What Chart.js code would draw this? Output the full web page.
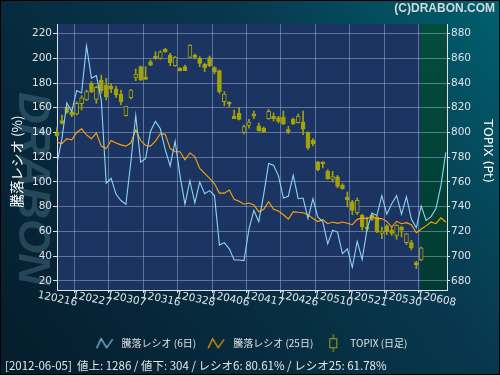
<!DOCTYPE html>
<html><head><meta charset="utf-8">
<script src="https://cdn.jsdelivr.net/npm/chart.js@4/dist/chart.umd.min.js"></script>
<style>html,body{margin:0;padding:0;background:#062436;overflow:hidden}canvas{display:block}</style>
</head><body>
<canvas id="c" width="500" height="375"></canvas>
<script>
const tickLabels = ['120216','120227','120307','120316','120328','120406','120417','120426','120510','120521','120530','120608'];
const dayIndex = Array.from({length: 80}, (_, i) => i);
const ratio6 = [115,135,164,157,174,172,210,184,186,166,
 99,103,90,85,82,116,154,116,119,141,
 149,143,126,113,133,105,82,101,83,100,
 90.5,93,89,49,51,46,37,37,36.5,62,
 77,68,90,115,113.5,105,87,88.5,105.5,86.5,
 87,70.5,86.5,71.5,68,50,61,59.5,42,46,
 31,52,37.5,62,75,73,89,74,82.5,89,
 74,88,70,63,80.6,69,72,78.5,97,124];
const ratio25 = [132,131,135,134,140,143,138,135,139.5,129,
 127,133.5,131.5,130,129,131.5,142,133.5,129.5,129,
 133,139,138.5,127,124.5,124.5,118,123.5,120.5,111,
 107,103,98.5,91,91,93.5,86,84.5,82,83,
 81.5,76,78,84,78,76.5,73.5,70,76,75.5,
 75.2,73.6,70.5,68,69.5,66.3,67.7,66.6,67.7,66.6,
 65.5,69.8,71,70.4,72.5,70.4,70.4,68.2,63.6,68.2,
 66.3,67.1,65.5,59,62,64.5,67.7,66.3,71,67.7];
const topixOpen = [799.3,809.6,820.3,816.8,815.0,823.3,826.3,839.7,826.8,842.4,
 838.4,837.6,835.2,831.1,813.6,828.1,844.6,853.2,844.6,857.2,
 861.8,859.9,867.2,862.6,854.0,851.9,853.2,860.7,862.6,859.9,
 855.1,860.5,852.4,850.0,824.9,824.6,813.3,815.5,800.1,805.8,
 815.0,805.3,803.6,811.2,813.1,812.0,812.5,802.3,810.6,807.9,
 808.5,800.4,793.7,776.2,776.2,768.9,762.2,764.1,757.3,747.9,
 743.9,735.2,733.1,723.6,733.1,731.7,718.5,724.5,721.0,716.9,
 723.6,711.0,711.0,694.8,697.0];
const topixHigh = [803.9,814.1,821.4,818.2,824.9,829.8,834.3,841.1,837.6,846.5,
 843.8,839.7,837.6,834.3,821.4,834.9,851.3,853.7,853.2,858.6,
 865.3,866.1,868.0,864.0,861.3,852.5,854.5,871.0,863.4,861.3,
 855.9,861.8,853.2,850.5,833.0,824.9,818.2,820.3,806.0,810.6,
 817.4,807.7,804.5,818.7,815.8,813.1,817.4,805.0,811.7,814.9,
 817.4,800.4,795.0,776.7,776.2,770.0,768.6,765.4,758.7,751.9,
 745.2,747.1,733.9,731.7,734.4,732.3,723.6,725.5,723.6,725.5,
 724.4,718.5,712.9,695.9,707.5];
const topixLow = [796.6,806.9,815.5,812.8,814.1,818.2,825.7,832.2,823.6,831.6,
 826.3,832.2,828.4,822.2,813.3,827.1,841.9,842.2,843.0,854.0,
 859.1,859.1,864.8,854.0,853.7,849.7,850.0,860.5,859.9,853.2,
 849.2,853.2,847.3,831.6,821.7,820.9,811.2,810.1,798.8,803.6,
 811.2,801.0,799.9,810.6,809.3,807.7,806.3,799.1,806.3,807.7,
 798.3,786.4,789.1,768.9,771.3,762.2,760.0,755.2,754.1,739.8,
 733.6,733.6,721.0,720.1,728.8,719.1,714.2,717.4,716.9,713.7,
 715.6,709.4,705.1,690.0,696.4];
const topixClose = [797.2,807.4,816.3,814.1,823.6,828.1,833.0,833.0,836.5,833.8,
 828.9,835.4,830.3,824.9,821.4,834.3,847.3,842.4,843.0,854.5,
 859.9,865.3,865.3,856.4,860.7,850.0,850.0,870.7,860.7,855.9,
 852.4,854.0,849.2,833.0,831.1,823.0,811.2,810.6,804.7,808.5,
 813.3,801.5,800.4,817.1,811.2,809.0,806.9,800.4,806.9,813.3,
 802.6,787.5,791.0,770.0,774.6,762.7,764.3,756.5,754.6,745.7,
 737.1,745.2,723.6,721.8,729.8,719.6,720.4,719.6,718.5,725.0,
 721.0,718.0,706.7,693.2,706.7];
const seriesNames = ['騰落レシオ (6日)', '騰落レシオ (25日)', 'TOPIX (日足)'];
const highlightFrom = 73.85;
const footerText = '[2012-06-05]  値上: 1286 / 値下: 304 / レシオ6: 80.61% / レシオ25: 61.78%';

const BLUE = '#8fd4f4', ORANGE = '#ffa500', OLIVE = '#a2a20a', PLOT_BG = '#1b3462';
const GRID = 'rgba(190,205,230,0.42)', TICKC = '#dfe3e8';
const CJK = '"Noto Sans CJK JP", sans-serif';
const LAT = '"DejaVu Sans", sans-serif';

function zig(color){
  const c = document.createElement('canvas'); c.width = 18; c.height = 12;
  const g = c.getContext('2d'); g.strokeStyle = color; g.lineWidth = 1.2;
  g.beginPath(); g.moveTo(1,11); g.lineTo(5.5,1.5); g.lineTo(11,10.5); g.lineTo(17,2); g.stroke();
  return c;
}
function candleIcon(){
  const c = document.createElement('canvas'); c.width = 10; c.height = 18;
  const g = c.getContext('2d'); g.strokeStyle = OLIVE; g.lineWidth = 1;
  g.beginPath(); g.moveTo(5,0); g.lineTo(5,4.5); g.moveTo(5,13.5); g.lineTo(5,18); g.stroke();
  g.strokeRect(1.5,4.5,7,9);
  return c;
}
const icons = [zig(BLUE), zig(ORANGE), candleIcon()];

const bgPlugin = {
  id: 'bg',
  beforeDraw(chart){
    const {ctx, chartArea: a, scales} = chart;
    const W = chart.width, H = chart.height;
    ctx.save();
    const g = ctx.createLinearGradient(W, 0, 0, H);
    g.addColorStop(0, '#00606e');
    g.addColorStop(0.35, '#08384e');
    g.addColorStop(1, '#051c2b');
    ctx.fillStyle = g; ctx.fillRect(0, 0, W, H);
    ctx.strokeStyle = '#000'; ctx.lineWidth = 2; ctx.strokeRect(0, 0, W, H);
    // watermark
    ctx.save();
    ctx.translate(31, 92); ctx.rotate(Math.PI / 2);
    ctx.font = 'italic bold 44px "Liberation Sans"';
    ctx.fillStyle = 'rgba(120,165,185,0.28)';
    ctx.textBaseline = 'middle';
    ctx.fillText('DRABON', 0, 0);
    ctx.restore();
    // plot background
    ctx.fillStyle = PLOT_BG; ctx.fillRect(a.left, a.top, a.width, a.height);
    const gx = scales.x.getPixelForValue(highlightFrom);
    const gg = ctx.createLinearGradient(0, a.top, 0, a.bottom);
    gg.addColorStop(0, '#024d3c'); gg.addColorStop(1, '#013a32');
    ctx.fillStyle = gg; ctx.fillRect(gx, a.top, a.right - gx, a.height);
    ctx.restore();
  }
};

new Chart(document.getElementById('c'), {
  type: 'bar',
  data: {
    datasets: [
      { type: 'line', label: seriesNames[0], data: dayIndex.map(i => ({x: i, y: ratio6[i]})),
        borderColor: BLUE, borderWidth: 1.1, pointRadius: 0, yAxisID: 'yL', tension: 0 },
      { type: 'line', label: seriesNames[1], data: dayIndex.map(i => ({x: i, y: ratio25[i]})),
        borderColor: ORANGE, borderWidth: 1.1, pointRadius: 0, yAxisID: 'yL', tension: 0 },
      { type: 'bar', label: seriesNames[2], yAxisID: 'yR', grouped: false, barThickness: 4,
        data: topixOpen.map((o, i) => ({x: i, y: [o, topixClose[i]]})),
        backgroundColor: c => (topixClose[c.dataIndex] >= topixOpen[c.dataIndex] ? PLOT_BG : OLIVE),
        borderColor: OLIVE, borderWidth: 1, borderSkipped: false, clip: 4 },
      { type: 'bar', label: 'wick', yAxisID: 'yR', grouped: false, barThickness: 1,
        data: topixLow.map((l, i) => ({x: i, y: [l, topixHigh[i]]})),
        backgroundColor: OLIVE, borderWidth: 0, clip: 4 }
    ]
  },
  options: {
    responsive: false, animation: false,
    layout: { padding: { left: 5, right: 5, top: 0, bottom: 0 } },
    plugins: {
      tooltip: { enabled: false },
      title: { display: true, text: '(C)DRABON.COM', align: 'end', color: '#d3d9dc',
        font: { family: '"Liberation Sans"', size: 12, weight: 'bold' }, padding: { top: 1, bottom: 8.6 } },
      subtitle: { display: true, position: 'bottom', align: 'start', text: footerText, color: '#e4e6e8',
        font: { family: CJK, size: 11.5 }, padding: { top: 1, bottom: 2 } },
      legend: {
        position: 'bottom', align: 'center',
        labels: {
          usePointStyle: true, pointStyleWidth: 24, padding: 8, color: '#e0e2e4',
          font: { family: CJK, size: 10 },
          filter: it => it.datasetIndex !== 3,
          generateLabels: chart => {
            const items = Chart.defaults.plugins.legend.labels.generateLabels(chart);
            items.forEach(it => { it.pointStyle = icons[it.datasetIndex]; });
            return items;
          }
        }
      }
    },
    scales: {
      x: {
        type: 'linear', min: 0, max: 79.24, offset: false,
        ticks: { stepSize: 7, includeBounds: false, autoSkip: false, minRotation: -12, maxRotation: -12,
          labelOffset: 20, padding: 4, color: TICKC, font: { family: LAT, size: 10.5 },
          callback: v => tickLabels[Math.round(v / 7)] ?? '' },
        grid: { color: GRID, tickColor: TICKC, tickLength: 3 },
        border: { color: TICKC, width: 1 },
        afterFit: s => { s.height = 40.2; }
      },
      yL: {
        position: 'left', min: 12.7, max: 227.7,
        ticks: { stepSize: 20, includeBounds: false, padding: 1, color: TICKC, font: { family: LAT, size: 10.5 } },
        grid: { color: GRID, tickColor: TICKC, tickLength: 4 },
        border: { color: TICKC, width: 1 },
        title: { display: true, text: '騰落レシオ (%)   ', color: '#ffffff', font: { family: CJK, size: 13.5 }, padding: { top: 3.9, bottom: 0 } },
        afterFit: s => { s.width = 52; }
      },
      yR: {
        position: 'right', min: 672.7, max: 887.7,
        ticks: { stepSize: 20, includeBounds: false, padding: 1, color: TICKC, font: { family: LAT, size: 10.5 } },
        grid: { drawOnChartArea: false, tickColor: TICKC, tickLength: 3 },
        border: { color: TICKC, width: 1 },
        title: { display: true, text: 'TOPIX (Pt)   ', color: '#ffffff', font: { family: LAT, size: 12.5 }, padding: { top: 0, bottom: 0 } },
        afterFit: s => { s.width = 48; }
      }
    }
  },
  plugins: [bgPlugin]
});
</script>
</body></html>
